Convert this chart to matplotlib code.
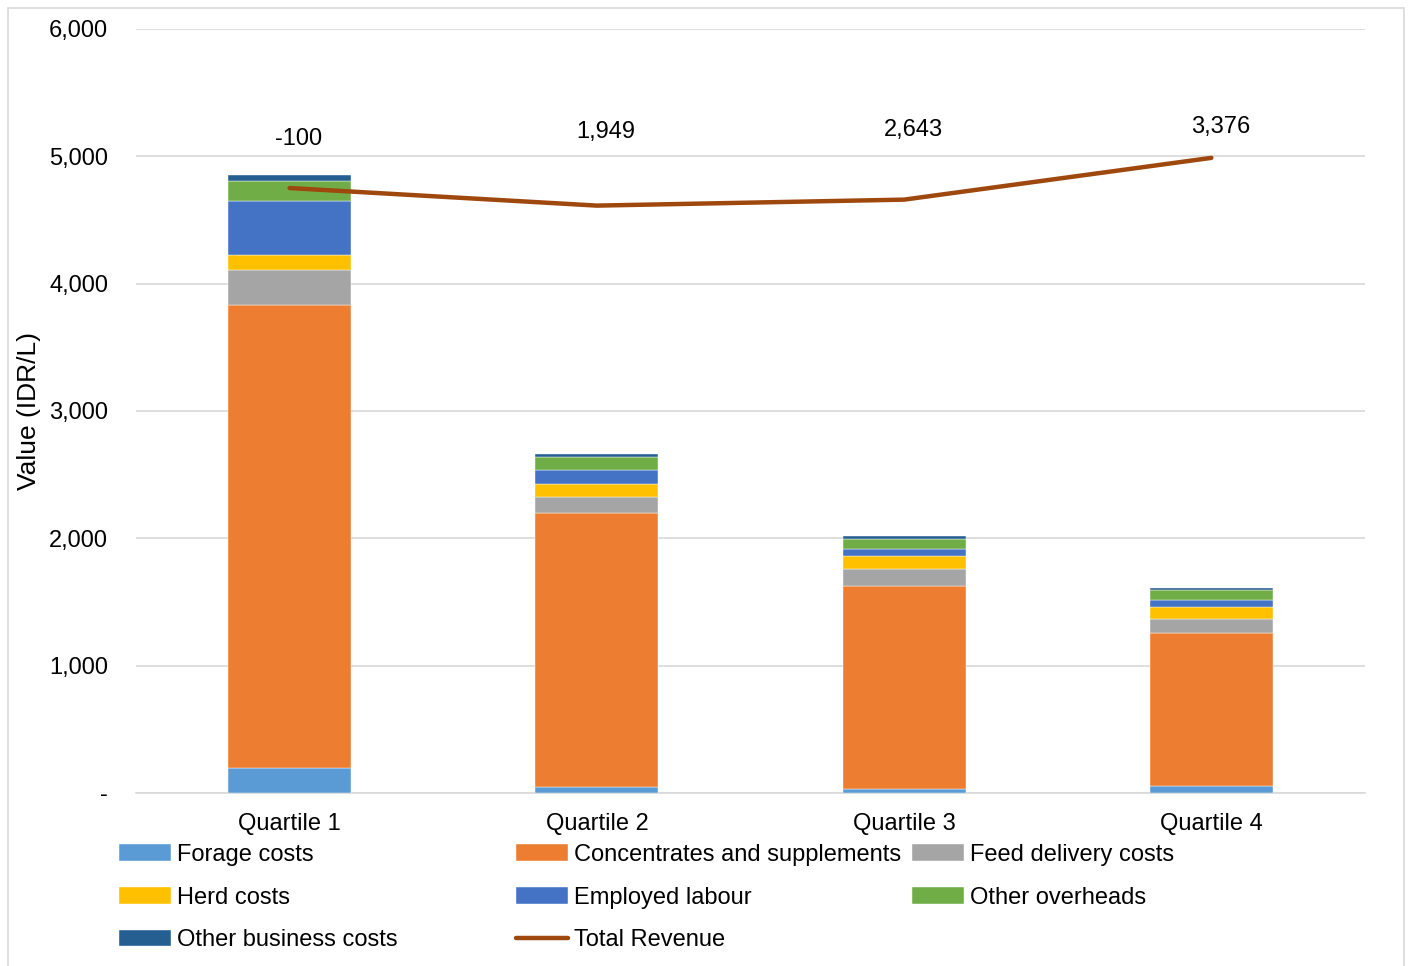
#Dairy farm cost structure by quartile

import numpy as np
import matplotlib.pyplot as plt
from matplotlib.patches import Rectangle
from matplotlib.ticker import FuncFormatter

plt.rcParams['font.family'] = ['Liberation Sans', 'DejaVu Sans']

#Input data (IDR/L)
quartiles = ["Quartile 1", "Quartile 2", "Quartile 3", "Quartile 4"]
forage = [196, 47, 29, 57]
concentrates = [3637, 2149, 1598, 1196]
feed_delivery = [272, 130, 134, 110]
herd = [118, 102, 97, 97]
labour = [427, 110, 60, 52]
overheads = [157, 103, 76, 84]
other_business = [44, 23, 23, 16]
revenue = [4751, 4613, 4660, 4988]
profit = [-100, 1949, 2643, 3376]
label_y = [5135, 5190, 5205, 5230]

series = [
    ("Forage costs", forage, "#5B9BD5"),
    ("Concentrates and supplements", concentrates, "#ED7D31"),
    ("Feed delivery costs", feed_delivery, "#A5A5A5"),
    ("Herd costs", herd, "#FFC000"),
    ("Employed labour", labour, "#4472C4"),
    ("Other overheads", overheads, "#70AD47"),
    ("Other business costs", other_business, "#255E91"),
]

fs = 17

fig = plt.figure(figsize=(14.1, 9.66), dpi=100)
fig.patches.append(Rectangle((8/1410, -0.01), 1396/1410, 1 - 8/966 + 0.01,
                             transform=fig.transFigure, fill=False,
                             edgecolor="#D9D9D9", linewidth=1.2))
ax = fig.add_axes([136/1410, 1 - 793/966, 1229/1410, 764/966])

x = np.arange(len(quartiles))
bottom = np.zeros(len(quartiles))
handles = {}
for name, vals, col in series:
    b = ax.bar(x, vals, 0.4, bottom=bottom, color=col, label=name,
               edgecolor="white", linewidth=0.3, zorder=3)
    handles[name] = b
    bottom += np.array(vals)

line, = ax.plot(x, revenue, color="#9E480E", linewidth=3.2, zorder=4,
                solid_capstyle="round", label="Total Revenue")
handles["Total Revenue"] = line

#profit labels
for xi, yi, p in zip(x, label_y, profit):
    ax.text(xi + 0.03, yi, f"{p:,}", ha="center", va="center", fontsize=fs)

ax.set_xlim(-0.5, 3.5)
ax.set_ylim(0, 6000)
ax.set_yticks(np.arange(0, 6001, 1000))
ax.yaxis.set_major_formatter(FuncFormatter(lambda v, p: "-" if v == 0 else f"{int(v):,}"))
ax.set_xticks(x)
ax.set_xticklabels(quartiles)
ax.tick_params(axis="both", length=0, labelsize=fs)
ax.tick_params(axis="y", pad=20)
ax.tick_params(axis="x", pad=14.5)
ax.grid(axis="y", color="#D9D9D9", linewidth=1.2, zorder=0)
for s in ["top", "right", "left"]:
    ax.spines[s].set_visible(False)
ax.spines["bottom"].set_color("#D9D9D9")
ax.spines["bottom"].set_linewidth(1.2)
ax.set_ylabel("Value (IDR/L)", fontsize=19)
ax.yaxis.set_label_coords(-0.077, 0.5)

#legend, one per column so the columns line up like the original
columns = [
    ["Forage costs", "Herd costs", "Other business costs"],
    ["Concentrates and supplements", "Employed labour", "Total Revenue"],
    ["Feed delivery costs", "Other overheads"],
]
col_x = [119, 516, 912]
for cx, names in zip(col_x, columns):
    leg = fig.legend([handles[n] for n in names], names, loc="upper left",
                     bbox_to_anchor=(cx/1410, 1 - 844/966), frameon=False,
                     fontsize=fs, handlelength=2.2, handletextpad=0.25,
                     labelspacing=0.87, borderaxespad=0, borderpad=0)

plt.savefig("out.png", dpi=100)
